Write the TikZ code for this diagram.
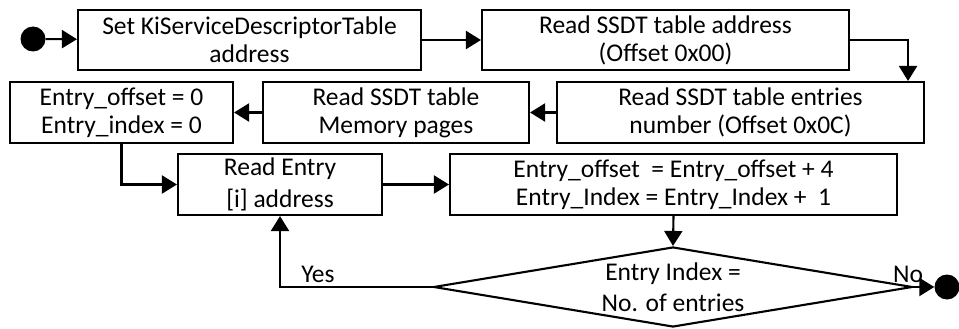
\documentclass[tikz,border=0pt]{standalone}
\usepackage{fontspec}
\setmainfont{Carlito}
\usetikzlibrary{arrows.meta,shapes.geometric,calc}
\begin{document}
\begin{tikzpicture}[x=1pt,y=-1pt,
  every node/.style={font=\fontsize{25.5}{28}\selectfont},
  wide/.style={font=\fontsize{25.5}{31.5}\selectfont},
  box/.style={draw,line width=2.1pt,rectangle,inner sep=0pt,align=center},
  dot/.style={circle,fill=black,inner sep=0pt,minimum size=25pt},
  arr/.style={line width=2.1pt,-{Triangle[length=15pt,width=18pt]}},
  lbl/.style={inner sep=0pt}]
\useasboundingbox (0,0) rectangle (959,329);

% start and end markers
\node[dot] (s) at (33,39) {};
\node[dot] (e) at (947,287) {};

% process boxes
\node[box,minimum width=343pt,minimum height=60pt] (b1) at (249.5,40)
  {Set KiServiceDescriptorTable\\address};
\node[box,minimum width=367pt,minimum height=60pt] (b2) at (665.5,40)
  {Read SSDT table address\\(Offset 0x00)};
\node[box,minimum width=367pt,minimum height=61pt] (b3) at (740.5,112.5)
  {Read SSDT table entries\\number (Offset 0x0C)};
\node[box,minimum width=266pt,minimum height=61pt] (b4) at (396,112.5)
  {Read SSDT table\\Memory pages};
\node[box,minimum width=223pt,minimum height=61pt] (b5) at (121.5,112.5)
  {Entry\_offset = 0\\Entry\_index = 0};
\node[box,wide,minimum width=204pt,minimum height=61pt] (b6) at (280,184.5)
  {Read Entry\\{[i]} address};
\node[box,minimum width=447pt,minimum height=61pt] (b7) at (673.5,184.5)
  {Entry\_offset~ = Entry\_offset + 4\\Entry\_Index = Entry\_Index + ~1};

% decision
\node[draw,line width=2.1pt,diamond,inner sep=0pt,minimum width=479pt,minimum height=80pt] (d) at (673,287) {};
\node[lbl,wide,align=center] (dt) at (d.center) {Entry Index =\\No. of entries};

% connectors
\draw[arr] (s) -- (b1);
\draw[arr] (b1.east) -- (b2.west);
\draw[arr] (b2.east) -| ($(b3.north east)+(-17,0)$);
\draw[arr] (b3.west) -- (b4.east);
\draw[arr] (b4.west) -- (b5.east);
\draw[arr] (b5.south) |- (b6.west);
\draw[arr] (b6.east) -- (b7.west);
\draw[arr] (b7.south) -- (d.north);
\draw[arr] (d.west) -| (b6.south);
\draw[arr] (d.east) -- (e);

% branch labels
\node[lbl] (yes) at (318,274) {Yes};
\node[lbl] (no) at (908,274) {No};
\end{tikzpicture}
\end{document}
